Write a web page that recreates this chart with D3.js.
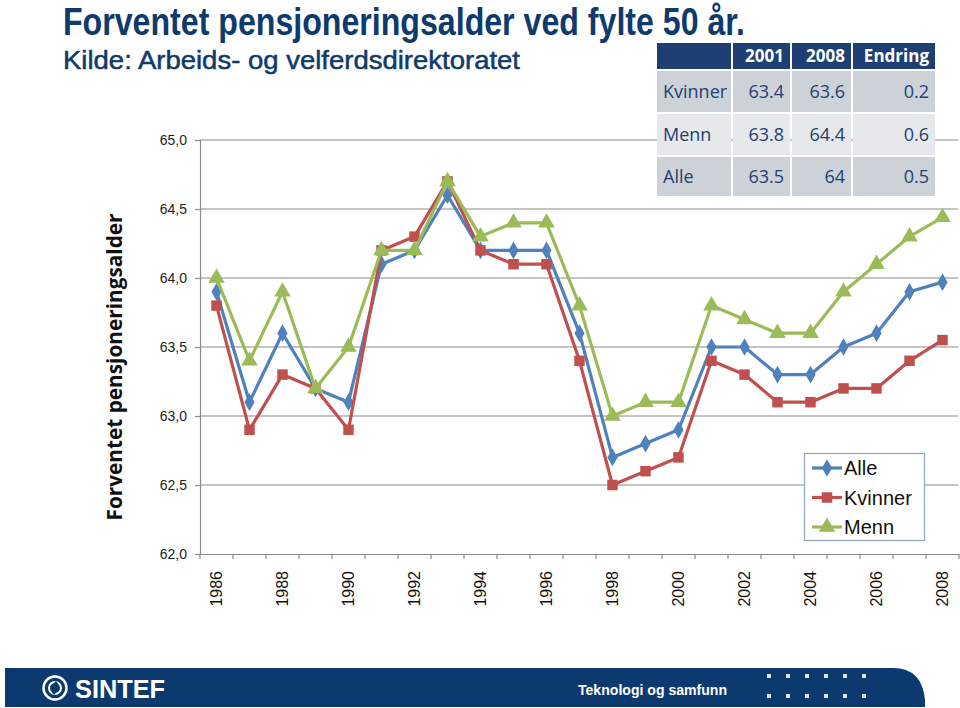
<!DOCTYPE html>
<html><head><meta charset="utf-8">
<script src="https://cdn.jsdelivr.net/npm/d3@7"></script>
<style>body{margin:0;background:#fff;}svg{display:block;}</style>
</head><body>
<script>
const years = d3.range(1986, 2009).map(String);
const alle    = [63.9,63.1,63.6,63.2,63.1,64.1,64.2,64.6,64.2,64.2,64.2,63.6,62.7,62.8,62.9,63.5,63.5,63.3,63.3,63.5,63.6,63.9,63.97];
const kvinner = [63.8,62.9,63.3,63.2,62.9,64.2,64.3,64.7,64.2,64.1,64.1,63.4,62.5,62.6,62.7,63.4,63.3,63.1,63.1,63.2,63.2,63.4,63.55];
const menn    = [64.0,63.4,63.9,63.2,63.5,64.2,64.2,64.7,64.3,64.4,64.4,63.8,63.0,63.1,63.1,63.8,63.7,63.6,63.6,63.9,64.1,64.3,64.44];
const yTicks = [62.0,62.5,63.0,63.5,64.0,64.5,65.0];
const tableHeader = ["", "2001", "2008", "Endring"];
const tableRows = [["Kvinner","63.4","63.6","0.2"],["Menn","63.8","64.4","0.6"],["Alle","63.5","64","0.5"]];
const seriesNames = ["Alle","Kvinner","Menn"];

const W=960,H=708;
const svg=d3.select("body").append("svg").attr("width",W).attr("height",H);
const navy="#0c3a6e";

// Title
svg.append("text").attr("x",63).attr("y",35).text("Forventet pensjoneringsalder ved fylte 50 år.")
  .attr("font-family","Liberation Sans, Arial").attr("font-weight","bold").attr("font-size",38).attr("fill","#0f3a6c")
  .attr("textLength",682).attr("lengthAdjust","spacingAndGlyphs");
svg.append("text").attr("x",63).attr("y",69).text("Kilde: Arbeids- og velferdsdirektoratet")
  .attr("font-family","Liberation Sans, Arial").attr("font-size",25).attr("fill","#0f3a6c")
  .attr("stroke","#0f3a6c").attr("stroke-width",0.5)
  .attr("textLength",457).attr("lengthAdjust","spacingAndGlyphs");

// Scales
const x=d3.scaleBand().domain(years).range([200,959]);
const y=d3.scaleLinear().domain([62,65]).range([554,140]);
const cx=d=>x(d)+x.bandwidth()/2;

// gridlines
svg.append("g").selectAll("line").data(yTicks.slice(1)).join("line")
  .attr("x1",200).attr("x2",958).attr("y1",d=>y(d)).attr("y2",d=>y(d))
  .attr("stroke","#8a8a8a").attr("stroke-width",1.2);

// y axis
const ya=svg.append("g").attr("transform","translate(200,0)")
  .call(d3.axisLeft(y).tickValues(yTicks).tickFormat(d=>d3.format(".1f")(d).replace(".",",")).tickSize(5).tickPadding(8));
ya.select(".domain").attr("stroke","#8a8a8a").attr("stroke-width",1.2);
ya.selectAll(".tick line").attr("stroke","#8a8a8a").attr("stroke-width",1.2);
ya.selectAll("text").attr("font-family","Liberation Sans, Arial").attr("font-size",14).attr("fill","#222");

// x axis
const xa=svg.append("g").attr("transform","translate(0,554)")
  .call(d3.axisBottom(x).tickSize(0).tickFormat(d=>(+d%2===0)?d:""));
xa.select(".domain").attr("stroke","#8a8a8a").attr("stroke-width",1.2);
xa.selectAll("text").attr("font-family","Liberation Sans, Arial").attr("font-size",16).attr("fill","#111")
  .attr("transform","rotate(-90)").attr("text-anchor","end").attr("x",-17).attr("y",0).attr("dy","0.35em");
// category boundary ticks
svg.append("g").selectAll("line").data(d3.range(years.length+1)).join("line")
  .attr("x1",i=>200+i*x.step()).attr("x2",i=>200+i*x.step()).attr("y1",554).attr("y2",559)
  .attr("stroke","#8a8a8a").attr("stroke-width",1.2);

// y-axis title
svg.append("text").attr("transform","translate(122,367) rotate(-90)").attr("text-anchor","middle")
  .text("Forventet pensjoneringsalder").attr("font-family","Open Sans, Noto Sans").attr("font-weight","bold")
  .attr("font-size",21).attr("fill","#111").attr("textLength",307).attr("lengthAdjust","spacingAndGlyphs");

// series
const series=[
  {name:"Menn",vals:menn,color:"#9bbb59",sym:d3.symbolTriangle,size:120},
  {name:"Kvinner",vals:kvinner,color:"#c0504d",sym:d3.symbolSquare,size:110},
  {name:"Alle",vals:alle,color:"#4f81bd",sym:d3.symbolDiamond,size:90},
];
const line=d3.line().x((d,i)=>cx(years[i])).y(d=>y(d));
const order=[series[2],series[1],series[0]];
order.forEach(s=>{
  svg.append("path").datum(s.vals).attr("d",line).attr("fill","none").attr("stroke",s.color).attr("stroke-width",3.2).attr("stroke-linejoin","round");
  svg.append("g").selectAll("path").data(s.vals).join("path")
    .attr("d",d3.symbol().type(s.sym).size(s.size))
    .attr("transform",(d,i)=>`translate(${cx(years[i])},${y(d)})`).attr("fill",s.color);
});

// legend
const lg=svg.append("g");
lg.append("rect").attr("x",804.5).attr("y",453.5).attr("width",120).attr("height",87).attr("fill","#fff").attr("stroke","#8fa6c6").attr("stroke-width",1.2);
const legendItems=[series[2],series[1],series[0]];
legendItems.forEach((s,i)=>{
  const yy=468+i*29.5;
  lg.append("line").attr("x1",812).attr("x2",842).attr("y1",yy).attr("y2",yy).attr("stroke",s.color).attr("stroke-width",3.2);
  lg.append("path").attr("d",d3.symbol().type(s.sym).size(s.size)).attr("transform",`translate(827,${yy})`).attr("fill",s.color);
  lg.append("text").attr("x",844).attr("y",yy).attr("dy","0.35em").text(seriesNames[i])
    .attr("font-family","Liberation Sans, Arial").attr("font-size",20).attr("fill","#111");
});

// table
const colX=[657,733,792,853,937];
const rowY=[43,71,114,157,198];
const tg=svg.append("g");
const rowFill=["#1e3f73","#cdd1d8","#e6e8ec","#cdd1d8"];
for(let r=0;r<4;r++){
  for(let c=0;c<4;c++){
    tg.append("rect").attr("x",colX[c]).attr("y",rowY[r]).attr("width",colX[c+1]-colX[c]-2).attr("height",rowY[r+1]-rowY[r]-2)
      .attr("fill",rowFill[r]);
  }
}
tableHeader.forEach((t,c)=>{
  tg.append("text").attr("x",colX[c+1]-8).attr("y",(rowY[0]+rowY[1]-2)/2).attr("dy","0.35em").attr("text-anchor","end")
    .text(t).attr("font-family","Open Sans, Noto Sans").attr("font-weight","bold").attr("font-size",17).attr("fill","#fff");
});
tableRows.forEach((row,r)=>{
  row.forEach((t,c)=>{
    const anchor=c===0?"start":"end";
    tg.append("text").attr("x",c===0?colX[0]+6:colX[c+1]-8).attr("y",(rowY[r+1]+rowY[r+2]-2)/2).attr("dy","0.35em")
      .attr("text-anchor",anchor).text(t).attr("font-family","Open Sans, Noto Sans").attr("font-size",18).attr("fill","#23416f");
  });
});

// footer
const fg=svg.append("g");
fg.append("path").attr("d","M5,668 H893 Q922,668 925,700 V707 H5 Z").attr("fill",navy);
fg.append("circle").attr("cx",55).attr("cy",688).attr("r",11.5).attr("fill","none").attr("stroke","#fff").attr("stroke-width",2.5);
fg.append("circle").attr("cx",55).attr("cy",688).attr("r",6).attr("fill","none").attr("stroke","#fff").attr("stroke-width",2);
fg.append("path").attr("d","M55,682 q4,3 0,6 q-4,3 0,6").attr("fill","none").attr("stroke",navy).attr("stroke-width",2.5);
fg.append("text").attr("x",75).attr("y",698).text("SINTEF").attr("font-family","Liberation Sans, Arial").attr("font-weight","bold")
  .attr("font-size",26).attr("fill","#fff").attr("textLength",90).attr("lengthAdjust","spacingAndGlyphs");
fg.append("text").attr("x",578).attr("y",695).text("Teknologi og samfunn").attr("font-family","Liberation Sans, Arial")
  .attr("font-weight","bold").attr("font-size",15).attr("fill","#fff").attr("textLength",149).attr("lengthAdjust","spacingAndGlyphs");
const dots=[];
for(let r=0;r<2;r++)for(let c=0;c<6;c++)dots.push([769+c*19,676+r*20]);
fg.append("g").selectAll("rect").data(dots).join("rect").attr("x",d=>d[0]-2).attr("y",d=>d[1]-2).attr("width",4).attr("height",4).attr("fill","#dfe4ec");
</script>
</body></html>
